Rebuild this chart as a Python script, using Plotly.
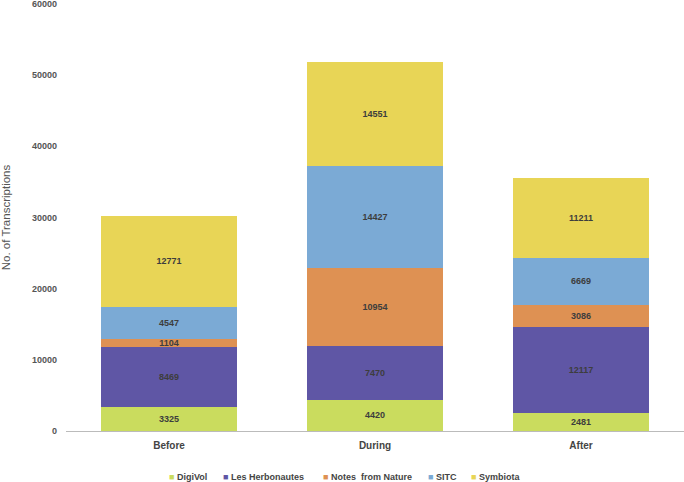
import plotly.graph_objects as go

categories = ["Before", "During", "After"]
digivol = [3325, 4420, 2481]
herbonautes = [8469, 7470, 12117]
notes_from_nature = [1104, 10954, 3086]
sitc = [4547, 14427, 6669]
symbiota = [12771, 14551, 11211]

series = [
    ("DigiVol", digivol, "#CADC5E"),
    ("Les Herbonautes", herbonautes, "#5F56A5"),
    ("Notes  from Nature", notes_from_nature, "#DE9153"),
    ("SITC", sitc, "#7BAAD5"),
    ("Symbiota", symbiota, "#E8D556"),
]
# left edge (px) of each legend swatch
legend_px = [169, 223, 323, 428, 471]
LEG_OFFSET = 40

FONT = "Liberation Sans, Arial, sans-serif"
W, H = 684, 482

fig = go.Figure()
for name, vals, color in series:
    fig.add_trace(go.Bar(
        x=categories, y=vals, name=name, showlegend=False,
        marker=dict(color=color, line=dict(width=0)),
        text=[str(v) for v in vals],
        textposition="inside", insidetextanchor="middle",
        textangle=0, constraintext="none",
        textfont=dict(family=FONT, size=9, color="#3d3d3d", weight="bold"),
    ))

legend_layouts = {}
for i, ((name, vals, color), px) in enumerate(zip(series, legend_px)):
    key = "legend" if i == 0 else f"legend{i+1}"
    fig.add_trace(go.Scatter(
        x=[None], y=[None], mode="markers", legend=key,
        name=f'<span style="color:{color}">■</span> {name}',
        marker=dict(symbol="square", size=1, color="rgba(0,0,0,0)"),
    ))
    legend_layouts[key] = dict(
        xref="container", yref="container",
        x=(px - LEG_OFFSET) / W, xanchor="left",
        y=1 - 476 / H, yanchor="middle",
        orientation="h", bgcolor="rgba(0,0,0,0)", borderwidth=0,
        font=dict(family=FONT, size=9, color="#444", weight="bold"),
        itemwidth=30,
    )

fig.update_layout(
    barmode="stack",
    bargap=0.34,
    width=W, height=H,
    margin=dict(l=66, r=0, t=4, b=51),
    plot_bgcolor="white", paper_bgcolor="white",
    font=dict(family=FONT, size=9, color="#555", weight="bold"),
    showlegend=True,
    xaxis=dict(showline=True, linecolor="#bbbbbb", linewidth=1, ticks="",
               tickfont=dict(size=10, color="#444", weight="bold"), showgrid=False,
               ticklabelstandoff=5, automargin=False),
    yaxis=dict(range=[0, 60000], dtick=10000, showgrid=False, zeroline=False,
               tickformat="d", ticks="", tickfont=dict(size=9, color="#555", weight="bold"),
               ticklabelstandoff=8, automargin=False, ticklabeloverflow="allow",
               title=dict(text="No. of Transcriptions",
                          font=dict(size=11.5, color="#555", weight="normal"), standoff=20)),
    **legend_layouts,
)
fig.write_html("out.html", config={"displayModeBar": False},
               post_script="document.body.style.margin='0';")
